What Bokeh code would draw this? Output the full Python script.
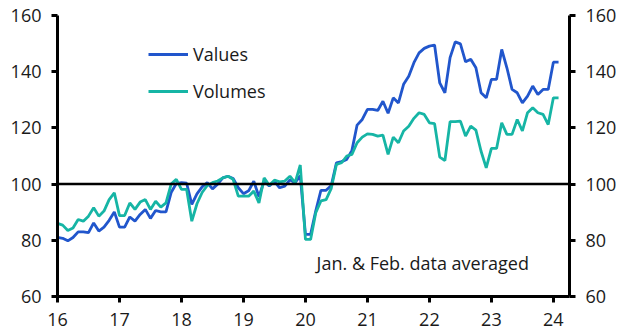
from bokeh.plotting import figure
from bokeh.models import (Range1d, LinearAxis, FixedTicker, Span, Label, Legend,
                          LegendItem)
from bokeh.embed import file_html
from bokeh.resources import INLINE

# Monthly index levels, Jan 2016 .. Feb 2024 (Jan & Feb 2024 averaged)
values = [81, 80.7, 79.8, 81, 83, 83, 82.7, 86.2, 83.3, 84.7, 87.1, 90.1,
          84.7, 84.7, 88.3, 86.8, 89.2, 91, 87.8, 90.6, 90.1, 90.1, 97, 100.2,
          100.5, 100.3, 92.8, 96.5, 99, 100.5, 98.3, 100, 102.2, 102.8, 102, 98.7,
          96.6, 97.6, 101, 95.5, 101, 99.3, 101, 98.7, 99.3, 101.5, 100.5, 103,
          82.1, 82.1, 90.5, 97.8, 97.8, 99.5, 107.6, 108, 108.8, 112, 121, 123,
          126.6, 126.6, 126.2, 129.5, 125.2, 130.7, 128.9, 135.5, 138.4, 143.2, 146.7, 148.3,
          149.1, 149.5, 136, 132.5, 145, 150.6, 149.9, 143.5, 144.4, 141.4, 132.5, 130.7,
          137.3, 137.3, 147.9, 141.4, 133.7, 132.5, 128.9, 131.3, 134.9, 131.9, 133.7, 133.7,
          143.4, 143.4]
volumes = [86, 85.4, 83.5, 84.4, 87.4, 86.8, 88.6, 91.6, 88.6, 90.4, 94.5, 96.9,
           88.8, 88.8, 93.3, 91, 93.6, 94.5, 91, 93.9, 91.8, 93.3, 100, 101.7,
           98.1, 98.1, 86.8, 93, 97, 99.5, 100.5, 101.1, 102.2, 102.8, 101.7, 95.7,
           95.7, 95.7, 97.5, 93.3, 102.2, 99.6, 101.4, 100.8, 101.1, 102.8, 100.5, 106.8,
           80.3, 80.3, 89.8, 94, 94.5, 98.5, 107, 107.6, 110, 110.6, 114.7, 116.7,
           117.9, 117.7, 117.1, 117.4, 110.6, 116.7, 114.7, 118.9, 120.6, 123.4, 125.4, 124.8,
           121.8, 121.5, 109.6, 108.4, 122.2, 122.2, 122.4, 117.1, 120.6, 119.2, 111.7, 105.8,
           112.7, 112.7, 121.8, 117.7, 117.7, 123, 118.9, 125.4, 127.2, 125.4, 124.8, 121.2,
           130.7, 130.7]
dates = [16 + k / 12 for k in range(len(values))]

year_ticks = [16, 17, 18, 19, 20, 21, 22, 23, 24]
year_labels = ["16", "17", "18", "19", "20", "21", "22", "23", "24"]
y_ticks = [60, 80, 100, 120, 140, 160]

BLUE = "#2156CC"
TEAL = "#16B5A5"
FONT = "Open Sans"
FS = "18px"
TXT = "#1a1a1a"

p = figure(width=623, height=335, x_range=Range1d(16, 24.26), y_range=Range1d(60, 160),
           output_backend="svg", toolbar_location=None,
           min_border_left=57, min_border_right=54, min_border_top=15, min_border_bottom=39)
p.xgrid.visible = False
p.ygrid.visible = False
p.outline_line_color = None
p.background_fill_color = "white"
p.border_fill_color = "white"

p.add_layout(LinearAxis(), "right")

for ax in p.yaxis:
    ax.ticker = FixedTicker(ticks=y_ticks)
for ax in p.xaxis:
    ax.ticker = FixedTicker(ticks=year_ticks)
    ax.major_label_overrides = {t: l for t, l in zip(year_ticks, year_labels)}

for ax in list(p.xaxis) + list(p.yaxis):
    ax.axis_line_width = 3
    ax.axis_line_color = "black"
    ax.major_tick_line_width = 3
    ax.major_tick_line_color = "black"
    ax.major_tick_out = 6
    ax.major_tick_in = 0
    ax.minor_tick_line_color = None
    ax.major_label_text_font = FONT
    ax.major_label_text_font_size = FS
    ax.major_label_text_color = TXT
    ax.major_label_standoff = 10

p.add_layout(Span(location=100, dimension="width", line_color="black", line_width=2.5))

r_val = p.line(dates, values, line_color=BLUE, line_width=2.8)
r_vol = p.line(dates, volumes, line_color=TEAL, line_width=2.8)

legend = Legend(items=[LegendItem(label="Values", renderers=[r_val]),
                       LegendItem(label="Volumes", renderers=[r_vol])],
                location=(91, 193), orientation="vertical",
                glyph_width=40, glyph_height=20, label_height=20, spacing=13,
                label_standoff=5, padding=0, margin=0,
                border_line_color=None, background_fill_alpha=0,
                label_text_font=FONT, label_text_font_size=FS, label_text_color=TXT)
p.add_layout(legend)

p.add_layout(Label(x=20.18, y=71.8, text="Jan. & Feb. data averaged", text_font=FONT,
                   text_font_size=FS, text_color=TXT, text_baseline="middle"))

open("out.html", "w").write(file_html(p, INLINE))
